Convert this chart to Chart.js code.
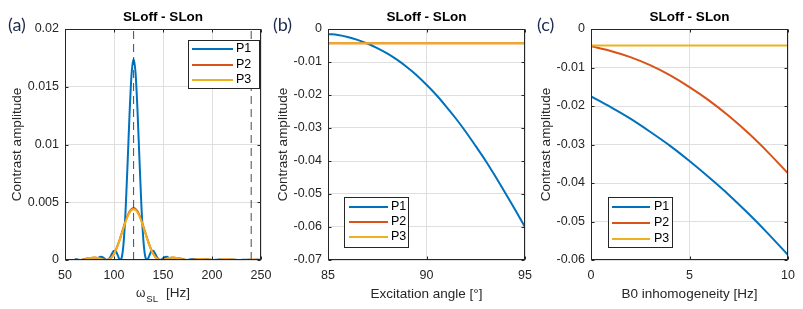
<!DOCTYPE html>
<html>
<head>
<meta charset="utf-8">
<script src="https://cdn.jsdelivr.net/npm/chart.js@4.4.0/dist/chart.umd.min.js"></script>
<style>
  body { margin: 0; background: #fff; }
  #wrap { position: relative; width: 803px; height: 309px; }
  #wrap canvas { position: absolute; left: 0; top: 0; }
</style>
</head>
<body>
<div id="wrap">
  <canvas id="chartA" width="803" height="309"></canvas>
  <canvas id="chartB" width="803" height="309"></canvas>
  <canvas id="chartC" width="803" height="309"></canvas>
</div>
<script>
// ---- data: panel (a), spin-lock frequency sweep ----
const freqA = [60,62,64,66,68,70,72,74,76,78,80,82,84,86,88,90,92,94,96,98,
  100,102,104,106,108,110,112,114,116,118,120,122,124,126,128,130,132,134,136,138,
  140,142,144,146,148,150,152,154,156,158,160,162,164,166,168,170,172,174,176,178,
  180,182,184,186,188,190,192,194,196,198,200,202,204,206,208,210,212,214,216,218,
  220,222,224,226,228,230,232,234,236,238,240,242,244,246,248,250];
const p1A = [0.00009,0.00006,0.00002,0,0.00002,0.00008,0.00014,0.00014,0.00009,0.00002,
  0,0.00007,0.00019,0.00028,0.00026,0.00015,0.00002,0.00003,0.00023,0.00056,
  0.0008,0.00074,0.00038,0.00002,0.00026,0.0017,0.00461,0.00866,0.01291,0.01618,
  0.0174,
  0.01618,0.01291,0.00866,0.00461,0.0017,0.00026,0.00002,0.00038,0.00074,0.0008,
  0.00056,0.00023,0.00003,0.00002,0.00015,0.00026,0.00028,0.00019,0.00007,0,
  0.00002,0.00009,0.00014,0.00014,0.00008,0.00002,0,0.00002,0.00006,0.00009,
  0.00008,0.00004,0.00001,0,0.00002,0.00005,0.00006,0.00005,0.00002,0,
  0.00001,0.00002,0.00003,0.00004,0.00003,0.00001,0,0,0.00002,0.00003,
  0.00003,0.00002,0.00001,0,0.00001,0.00002,0.00002,0.00002,0.00001,0,
  0,0.00001,0.00002,0.00002,0.00002];
const p2A = [0.00002,0.00001,0,0.00001,0.00002,0.00006,0.00009,0.00014,0.00018,0.0002,
  0.00021,0.0002,0.00017,0.00012,0.00007,0.00002,0,0.00003,0.00012,0.00029,
  0.00054,0.0009,0.00133,0.00182,0.00236,0.0029,0.00342,0.00386,0.00421,0.00442,
  0.0045,
  0.00442,0.00421,0.00386,0.00342,0.0029,0.00236,0.00182,0.00133,0.0009,0.00054,
  0.00029,0.00012,0.00003,0,0.00002,0.00007,0.00012,0.00017,0.0002,0.00021,
  0.0002,0.00018,0.00014,0.00009,0.00006,0.00002,0.00001,0,0.00001,0.00002,
  0.00004,0.00005,0.00007,0.00007,0.00007,0.00007,0.00005,0.00004,0.00002,0.00001,
  0,0,0.00001,0.00002,0.00003,0.00004,0.00004,0.00004,0.00004,0.00003,
  0.00002,0.00001,0.00001,0,0,0,0.00001,0.00001,0.00002,0.00002,
  0.00002,0.00002,0.00002,0.00001,0.00001];
const p3A = [0.00002,0.00001,0,0.00001,0.00002,0.00005,0.00009,0.00013,0.00017,0.0002,
  0.00021,0.0002,0.00016,0.00012,0.00006,0.00002,0,0.00003,0.00011,0.00028,
  0.00053,0.00088,0.0013,0.00178,0.00231,0.00284,0.00334,0.00377,0.00411,0.00432,
  0.0044,
  0.00432,0.00411,0.00377,0.00334,0.00284,0.00231,0.00178,0.0013,0.00088,0.00053,
  0.00028,0.00011,0.00003,0,0.00002,0.00006,0.00012,0.00016,0.0002,0.00021,
  0.0002,0.00017,0.00013,0.00009,0.00005,0.00002,0.00001,0,0.00001,0.00002,
  0.00003,0.00005,0.00006,0.00007,0.00007,0.00006,0.00005,0.00004,0.00002,0.00001,
  0,0,0.00001,0.00002,0.00003,0.00004,0.00004,0.00004,0.00004,0.00003,
  0.00002,0.00001,0.00001,0,0,0,0.00001,0.00001,0.00002,0.00002,
  0.00002,0.00002,0.00001,0.00001,0.00001];
const dashX = [120, 240];      // reference frequencies (dashed)
const dashY = [0, 0.02];

// ---- data: panel (b), excitation angle ----
const angleB = [85,85.5,86,86.5,87,87.5,88,88.5,89,89.5,90,90.5,91,91.5,92,92.5,93,93.5,94,94.5,95];
const p1B = [-0.0015,-0.0018,-0.0024,-0.0033,-0.0044,-0.0058,-0.0074,-0.0093,-0.0115,-0.0140,
  -0.0169,-0.0200,-0.0235,-0.0272,-0.0312,-0.0355,-0.0399,-0.0447,-0.0497,-0.0548,-0.0600];
const angleFlat = [85, 95];
const p2B = [-0.0043, -0.0043];
const p3B = [-0.0043, -0.0043];

// ---- data: panel (c), B0 inhomogeneity ----
const b0C = [0,1,2,3,4,5,6,7,8,9,10];
const p1C = [-0.0175,-0.0203,-0.0233,-0.0267,-0.0303,-0.0343,-0.0386,-0.0431,-0.0480,-0.0532,-0.0587];
const p2C = [-0.0045,-0.0057,-0.0073,-0.0094,-0.0120,-0.0151,-0.0186,-0.0226,-0.0271,-0.0321,-0.0375];
const b0Flat = [0, 10];
const p3C = [-0.0043, -0.0043];

const C1 = '#0072BD', C2 = '#D95319', C3 = '#EDB120';
const AX = '#262626', GRID = '#dfdfdf';
const FONT = '"Liberation Sans", Arial, sans-serif';

Chart.defaults.font.family = FONT;
Chart.defaults.color = AX;

function pts(xs, ys) {
  return xs.map((x, i) => ({ x: x, y: ys[i] }));
}

function series(label, xs, ys, color, order) {
  return {
    label: label, data: pts(xs, ys), borderColor: color, backgroundColor: color,
    borderWidth: 2, pointRadius: 0, fill: false,
    cubicInterpolationMode: 'monotone', order: order
  };
}

function dashed(x) {
  return {
    label: '', data: pts([x, x], dashY), borderColor: '#4a4a4a', borderWidth: 1,
    borderDash: [8, 5], pointRadius: 0, fill: false, order: 0
  };
}

const fmt = v => String(+(+v).toFixed(4));

// frame, inner ticks, title, panel letter and legend box
const panelPlugin = {
  id: 'panel',
  afterDatasetsDraw(chart, args, o) {
    const ctx = chart.ctx, a = chart.chartArea;
    const xs = chart.scales.x, ys = chart.scales.y;
    const L = Math.round(a.left) + 0.5, R = Math.round(a.right) - 0.5;
    const T = Math.round(a.top) + 0.5, B = Math.round(a.bottom) - 0.5;
    ctx.save();
    ctx.strokeStyle = AX;
    ctx.lineWidth = 1;
    ctx.beginPath();
    xs.ticks.forEach(t => {
      const px = Math.round(xs.getPixelForValue(t.value)) + 0.5;
      ctx.moveTo(px, B); ctx.lineTo(px, B - 3);
      ctx.moveTo(px, T); ctx.lineTo(px, T + 3);
    });
    ys.ticks.forEach(t => {
      const py = Math.round(ys.getPixelForValue(t.value)) + 0.5;
      ctx.moveTo(L, py); ctx.lineTo(L + 3, py);
      ctx.moveTo(R, py); ctx.lineTo(R - 3, py);
    });
    ctx.stroke();
    ctx.strokeRect(L, T, R - L, B - T);

    // title
    ctx.fillStyle = '#000';
    ctx.font = 'bold 13.5px ' + FONT;
    ctx.textAlign = 'center';
    ctx.textBaseline = 'middle';
    ctx.fillText('SLoff - SLon', (a.left + a.right) / 2, 17);

    // panel letter
    ctx.fillStyle = '#1b2a50';
    ctx.font = '18px Lato, ' + FONT;
    ctx.textAlign = 'left';
    ctx.fillText(o.letter, o.letterX, 25);

    // x title with subscript (panel a)
    if (o.xsub) {
      const big = '13.5px ' + FONT, small = '9.5px ' + FONT, om = '12px ' + FONT;
      ctx.font = om; const w1 = ctx.measureText('\u03c9').width;
      ctx.font = small; const w2 = ctx.measureText('SL').width;
      ctx.font = big; const w3 = ctx.measureText('[Hz]').width;
      const gap = 8;
      let x = (a.left + a.right) / 2 - (w1 + 1 + w2 + gap + w3) / 2;
      ctx.fillStyle = AX;
      ctx.textBaseline = 'alphabetic';
      ctx.font = om; ctx.fillText('\u03c9', x, 297); x += w1 + 1;
      ctx.font = small; ctx.fillText('SL', x, 302); x += w2 + gap;
      ctx.font = big; ctx.fillText('[Hz]', x, 297);
    }

    // legend box
    const lg = o.legend;
    ctx.fillStyle = '#fff';
    ctx.fillRect(lg.x, lg.y, lg.w, lg.h);
    ctx.strokeStyle = AX;
    ctx.strokeRect(lg.x + 0.5, lg.y + 0.5, lg.w, lg.h);
    ctx.font = '12.5px ' + FONT;
    ctx.textBaseline = 'middle';
    const items = chart.data.datasets.filter(d => d.label);
    items.sort((p, q) => (p.label < q.label ? -1 : 1));
    items.forEach((d, i) => {
      const y = lg.y + lg.rows[i];
      ctx.strokeStyle = d.borderColor;
      ctx.lineWidth = 2;
      ctx.beginPath();
      ctx.moveTo(lg.x + lg.l0, y); ctx.lineTo(lg.x + lg.l1, y);
      ctx.stroke();
      ctx.fillStyle = '#000';
      ctx.fillText(d.label, lg.x + lg.tx, y);
    });
    ctx.restore();
  }
};

function makeChart(id, cfg) {
  return new Chart(document.getElementById(id), {
    type: 'line',
    data: { datasets: cfg.datasets },
    plugins: [panelPlugin],
    options: {
      responsive: false,
      devicePixelRatio: 1,
      animation: false,
      events: [],
      layout: { padding: { left: cfg.padL, right: cfg.padR, top: 29, bottom: 0 } },
      plugins: {
        legend: { display: false },
        tooltip: { enabled: false },
        panel: cfg.panel
      },
      scales: {
        x: {
          type: 'linear', min: cfg.xMin, max: cfg.xMax,
          ticks: { stepSize: cfg.xStep, padding: 8, maxRotation: 0, autoSkip: false,
                   font: { size: 12.5 }, color: AX, callback: fmt },
          grid: { color: GRID, drawTicks: false },
          border: { display: false },
          title: { display: !!cfg.xTitle, text: cfg.xTitle || '', color: AX,
                   font: { size: 13.5 }, padding: { top: 0, bottom: 7 } },
          afterFit: s => { s.height = 49; s.paddingLeft = 0; s.paddingRight = 0; }
        },
        y: {
          type: 'linear', min: cfg.yMin, max: cfg.yMax,
          ticks: { stepSize: cfg.yStep, padding: 6, autoSkip: false,
                   font: { size: 12.5 }, color: AX, callback: fmt },
          grid: { color: GRID, drawTicks: false },
          border: { display: false },
          title: { display: true, text: 'Contrast amplitude', color: AX,
                   font: { size: 13.5 }, padding: { top: cfg.yTitlePad, bottom: 0 } },
          afterFit: s => { s.width = cfg.yW; s.paddingTop = 0; s.paddingBottom = 0; }
        }
      }
    }
  });
}

makeChart('chartA', {
  padL: 0, padR: 542, yW: 65, yTitlePad: 9.5,
  xMin: 50, xMax: 250, xStep: 50, yMin: 0, yMax: 0.02, yStep: 0.005,
  datasets: [
    dashed(dashX[0]), dashed(dashX[1]),
    series('P1', freqA, p1A, C1, 3),
    series('P2', freqA, p2A, C2, 2),
    series('P3', freqA, p3A, C3, 1)
  ],
  panel: { letter: '(a)', letterX: 8, xsub: true,
           legend: { x: 188, y: 40, w: 71, h: 48, rows: [9, 25, 40], l0: 4, l1: 45, tx: 48 } }
});

makeChart('chartB', {
  padL: 270, padR: 278, yW: 58, yTitlePad: 5.5,
  xMin: 85, xMax: 95, xStep: 5, yMin: -0.07, yMax: 0, yStep: 0.01,
  xTitle: 'Excitation angle [\u00b0]',
  datasets: [
    series('P1', angleB, p1B, C1, 3),
    series('P2', angleFlat, p2B, C2, 2),
    series('P3', angleFlat, p3B, C3, 1)
  ],
  panel: { letter: '(b)', letterX: 273,
           legend: { x: 344, y: 197, w: 64, h: 50, rows: [10, 25, 40], l0: 5, l1: 44, tx: 47 } }
});

makeChart('chartC', {
  padL: 535, padR: 15, yW: 56, yTitlePad: 3,
  xMin: 0, xMax: 10, xStep: 5, yMin: -0.06, yMax: 0, yStep: 0.01,
  xTitle: 'B0 inhomogeneity [Hz]',
  datasets: [
    series('P1', b0C, p1C, C1, 3),
    series('P2', b0C, p2C, C2, 2),
    series('P3', b0Flat, p3C, C3, 1)
  ],
  panel: { letter: '(c)', letterX: 537,
           legend: { x: 608, y: 197, w: 64, h: 50, rows: [10, 26, 42], l0: 4, l1: 42, tx: 46 } }
});
</script>
</body>
</html>
